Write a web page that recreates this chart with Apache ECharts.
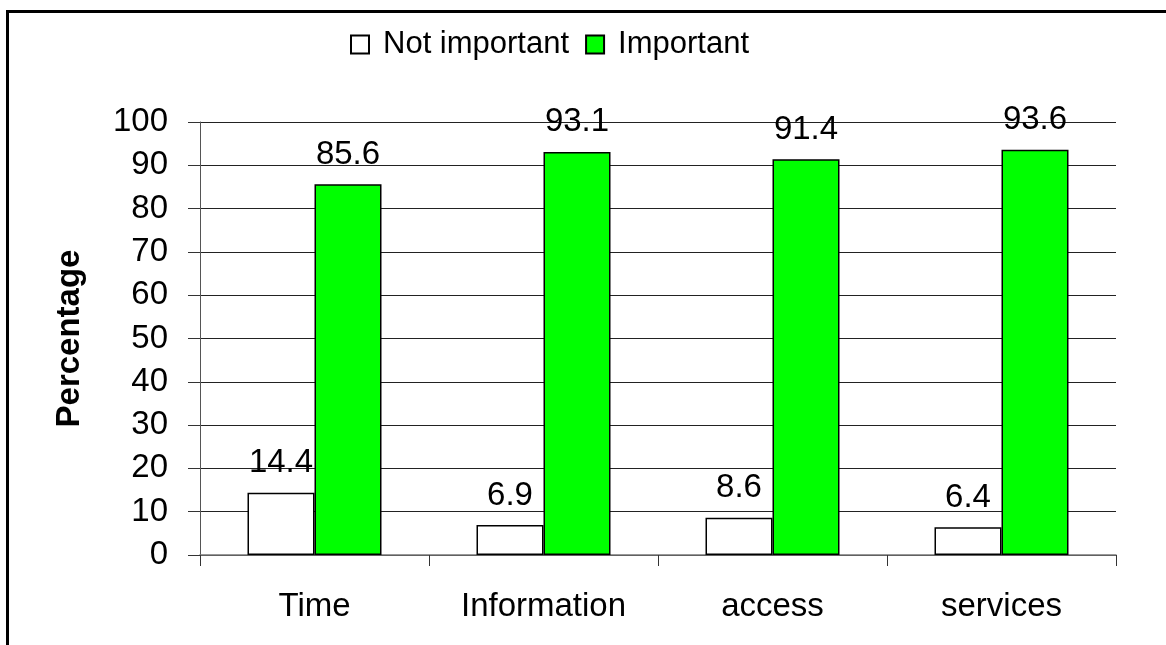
<!DOCTYPE html>
<html lang="en">
<head>
    <meta charset="UTF-8">
    <title>Not important vs Important</title>
    <script src="https://cdn.jsdelivr.net/npm/echarts@6/dist/echarts.min.js"></script>
    <style>
        html, body { margin: 0; padding: 0; overflow: hidden; background: #fff; }
        #frame { position: absolute; left: 6px; top: 10px; width: 1300px; height: 800px; border: 3px solid #000; }
        #main { position: absolute; left: 0; top: 0; width: 1166px; height: 645px; }
    </style>
</head>
<body>
    <div id="frame"></div>
    <div id="main"></div>
<script>
    // data
    var categories = ['Time', 'Information', 'access', 'services'];
    var notImportant = [14.4, 6.9, 8.6, 6.4];
    var important = [85.6, 93.1, 91.4, 93.6];

    var font = 'Liberation Sans, Arial, sans-serif';

    var myChart = echarts.init(document.getElementById('main'));

    var option = {
        backgroundColor: 'transparent',
        animation: false,
        textStyle: { fontFamily: font },
        legend: {
            left: 345,
            top: 24,
            itemWidth: 18,
            itemHeight: 18,
            itemGap: 16,
            icon: 'rect',
            textStyle: { fontSize: 31, color: '#000', fontFamily: font, padding: [0, 0, 0, 9] },
            data: ['Not important', 'Important']
        },
        grid: { left: 200, right: 50, top: 122, bottom: 90 },
        xAxis: {
            type: 'category',
            data: categories,
            axisLine: { lineStyle: { color: '#777', width: 1.5 } },
            axisTick: { show: true, length: 11, lineStyle: { color: '#333' } },
            axisLabel: { fontSize: 33, color: '#000', margin: 35, fontFamily: font }
        },
        yAxis: {
            type: 'value',
            min: 0,
            max: 100,
            interval: 10,
            name: 'Percentage',
            nameLocation: 'middle',
            nameGap: 114,
            nameTextStyle: { fontSize: 33, fontWeight: 'bold', color: '#000', fontFamily: font },
            axisLine: { show: true, lineStyle: { color: '#555', width: 1 } },
            axisTick: { show: true, inside: false, length: 12, lineStyle: { color: '#333' } },
            axisLabel: { fontSize: 33, color: '#000', margin: 32, fontFamily: font },
            splitLine: { lineStyle: { color: '#222', width: 1 } }
        },
        series: [
            {
                name: 'Not important',
                type: 'bar',
                data: notImportant,
                barWidth: 67,
                barGap: '0%',
                itemStyle: { color: '#fff', borderColor: '#000', borderWidth: 1.5 },
                label: { show: true, position: 'top', distance: 13, fontSize: 33, color: '#000', fontFamily: font }
            },
            {
                name: 'Important',
                type: 'bar',
                data: important,
                barWidth: 67,
                barGap: '0%',
                itemStyle: { color: '#00ff00', borderColor: '#000', borderWidth: 1.5 },
                label: { show: true, position: 'top', distance: 13, fontSize: 33, color: '#000', fontFamily: font }
            }
        ]
    };

    myChart.setOption(option);
</script>
</body>
</html>
